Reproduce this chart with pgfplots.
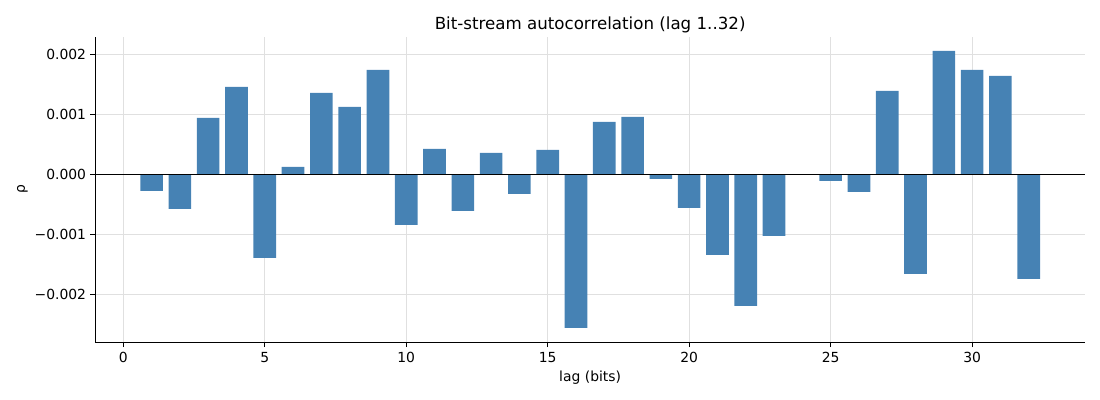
\documentclass[border=0pt]{standalone}
\usepackage{fontspec}
\setmainfont{DejaVu Sans}
\usepackage{pgfplots}
\usepackage{pgfplotstable}
\pgfplotsset{compat=1.18}
\definecolor{barblue}{HTML}{4682B4}
\pgfplotstableread{
lag rho
1 -0.000278
2 -0.000578
3 0.000939
4 0.001456
5 -0.001394
6 0.000122
7 0.001356
8 0.001122
9 0.001739
10 -0.000844
11 0.000422
12 -0.000611
13 0.000356
14 -0.000328
15 0.000406
16 -0.002561
17 0.000872
18 0.000956
19 -0.000078
20 -0.000561
21 -0.001344
22 -0.002194
23 -0.001028
24 0.0
25 -0.000111
26 -0.000294
27 0.001389
28 -0.001661
29 0.002056
30 0.001739
31 0.001639
32 -0.001744
}\datatable
\begin{document}
\begin{tikzpicture}
\path[use as bounding box] (-68.6pt,-41.5pt) rectangle (723.4pt,246.4pt);
\begin{axis}[
  at={(0,0)}, anchor=south west, scale only axis,
  width=712.6pt, height=220pt,
  xmin=-0.99, xmax=33.99, ymin=-0.0028, ymax=0.002293,
  axis x line*=bottom, axis y line*=left,
  axis line style={line width=0.8pt},
  xtick={0,5,10,15,20,25,30},
  xticklabels={0,5,10,15,20,25,30},
  ytick={-0.002,-0.001,0,0.001,0.002},
  yticklabels={−0.002,−0.001,0.000,0.001,0.002},
  scaled y ticks=false,
  tick align=outside, major tick length=3.5pt,
  tick style={line width=0.8pt, black},
  ticklabel style={font=\fontsize{10}{12}\selectfont},
  xticklabel style={anchor=center, yshift=-7.5pt},
  yticklabel style={anchor=east, xshift=0.4pt},
  grid=major,
  major grid style={line width=0.8pt, color=black!12},
  title={Bit-stream autocorrelation (lag 1..32)},
  title style={font=\fontsize{12}{14}\selectfont, at={(axis description cs:0.5,1.012)}, anchor=center, yshift=0pt},
  xlabel={lag (bits)},
  xlabel style={font=\fontsize{10}{12}\selectfont, at={(axis description cs:0.5,-0.117)}, anchor=center},
  ylabel={ρ},
  ylabel style={font=\fontsize{10}{12}\selectfont, at={(axis description cs:-0.0735,0.5)}, anchor=center},
]
\addplot[ybar, bar width=0.8, bar shift=0pt, fill=barblue, draw=none] table[x=lag, y=rho] {\datatable};
\addplot[black, line width=0.8pt, forget plot] coordinates {(-0.99,0) (33.99,0)};
\end{axis}
\end{tikzpicture}
\end{document}
